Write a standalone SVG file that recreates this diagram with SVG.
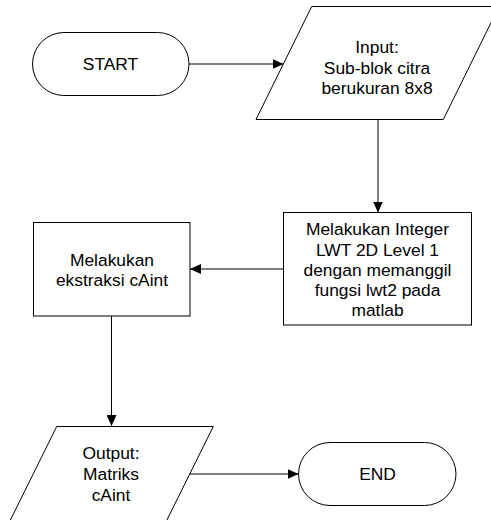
<svg xmlns="http://www.w3.org/2000/svg" width="491" height="520" viewBox="0 0 491 520">
  <style>
    .shape { fill: #ffffff; stroke: #000000; stroke-width: 1; }
    .conn { fill: none; stroke: #000000; stroke-width: 1; }
    text { font-family: "Liberation Sans", Arial, sans-serif; font-size: 17.4px; fill: #000000; text-anchor: middle; }
  </style>
  <defs>
    <marker id="arrow" viewBox="0 0 11 10" refX="11" refY="5" markerWidth="11" markerHeight="10" markerUnits="userSpaceOnUse" orient="auto">
      <path d="M0,0 L11,5 L0,10 Z" fill="#000000"/>
    </marker>
  </defs>
  <rect width="491" height="520" fill="#ffffff"/>

  <g id="connectors">
    <line class="conn" x1="189" y1="64" x2="283.5" y2="64" marker-end="url(#arrow)"/>
    <line class="conn" x1="378" y1="119.5" x2="378" y2="212.5" marker-end="url(#arrow)"/>
    <line class="conn" x1="283.5" y1="269" x2="190" y2="269" marker-end="url(#arrow)"/>
    <line class="conn" x1="111.5" y1="316" x2="111.5" y2="426" marker-end="url(#arrow)"/>
    <line class="conn" x1="190" y1="474" x2="298.5" y2="474" marker-end="url(#arrow)"/>
  </g>

  <g id="start">
    <rect class="shape" x="32.5" y="32.5" width="156.5" height="63" rx="31.5" ry="31.5"/>
    <text x="110.5" y="69.5">START</text>
  </g>

  <g id="input">
    <polygon class="shape" points="311.7,6.5 499,6.5 443.3,119.5 256,119.5"/>
    <text x="377" y="53">Input:</text>
    <text x="377" y="73.5">Sub-blok citra</text>
    <text x="377" y="94">berukuran 8x8</text>
  </g>

  <g id="lwt">
    <rect class="shape" x="283.5" y="212.5" width="188" height="112.5"/>
    <text x="377.5" y="235">Melakukan Integer</text>
    <text x="377.5" y="255.5">LWT 2D Level 1</text>
    <text x="377.5" y="276">dengan memanggil</text>
    <text x="377.5" y="296">fungsi lwt2 pada</text>
    <text x="377.5" y="316">matlab</text>
  </g>

  <g id="ekstraksi">
    <rect class="shape" x="33.5" y="222.5" width="156.5" height="93.5"/>
    <text x="112" y="265.5">Melakukan</text>
    <text x="112" y="286">ekstraksi cAint</text>
  </g>

  <g id="output">
    <polygon class="shape" points="56.7,426.5 213.3,426.5 157.5,539 1,539"/>
    <text x="111" y="458.5">Output:</text>
    <text x="111" y="480">Matriks</text>
    <text x="111" y="501">cAint</text>
  </g>

  <g id="end">
    <rect class="shape" x="298.5" y="442.5" width="157.5" height="63" rx="31.5" ry="31.5"/>
    <text x="377.5" y="479.5">END</text>
  </g>
</svg>
